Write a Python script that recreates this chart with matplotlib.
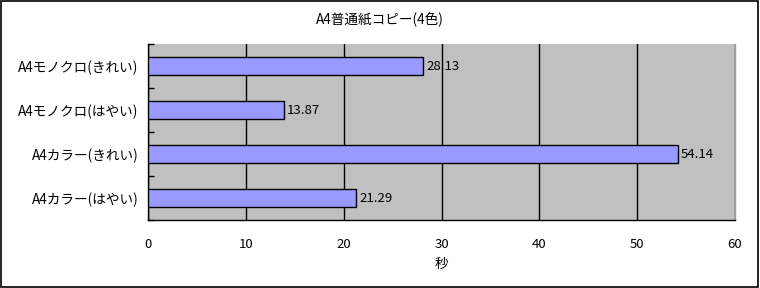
import numpy as np
import matplotlib.pyplot as plt
from matplotlib.patches import Rectangle

plt.rcParams['font.family'] = ['Noto Sans CJK JP', 'DejaVu Sans']

# data (top to bottom)
categories = ["A4モノクロ(きれい)", "A4モノクロ(はやい)", "A4カラー(きれい)", "A4カラー(はやい)"]
seconds = [28.13, 13.87, 54.14, 21.29]
xticks = [0, 10, 20, 30, 40, 50, 60]

fig = plt.figure(figsize=(7.6, 2.88), dpi=100)
fig.patches.append(Rectangle((0.001, 0.002), 0.997, 0.995, transform=fig.transFigure,
                             fill=False, edgecolor='black', linewidth=1.2))
ax = fig.add_axes([148 / 760, 1 - 220 / 288, (735 - 148) / 760, 176 / 288])

ypos = np.arange(len(categories))
ax.barh(ypos, seconds, height=0.4, color='#9999ff', edgecolor='black', linewidth=1, zorder=3)
for y, v in zip(ypos, seconds):
    ax.text(v + 0.3, y, f"{v:.2f}", va='center', ha='left', fontsize=9.5, zorder=4)

ax.set_facecolor('#c0c0c0')
ax.set_xlim(0, 60)
ax.set_ylim(len(categories) - 0.5, -0.5)
ax.set_xticks(xticks)
ax.xaxis.grid(True, color='black', linewidth=1)
ax.set_axisbelow(True)
ax.tick_params(axis='x', length=0, pad=13, labelsize=9.5)
ax.set_yticks(ypos)
ax.set_yticklabels(categories, fontsize=9.8)
ax.set_yticks(np.arange(-0.5, len(categories), 1), minor=True)
ax.tick_params(axis='y', which='major', length=0, pad=7)
ax.tick_params(axis='y', which='minor', length=4, width=1, direction='in')
ax.set_xlabel("秒", fontsize=9.8, labelpad=4)
for s in ax.spines.values():
    s.set_linewidth(1)
ax.spines['top'].set_visible(False)
ax.spines['right'].set_color('#a0a0a0')

fig.text(0.5, 1 - 20 / 288, "A4普通紙コピー(4色)", ha='center', va='center', fontsize=9.8)

fig.savefig("out.png", dpi=100)
